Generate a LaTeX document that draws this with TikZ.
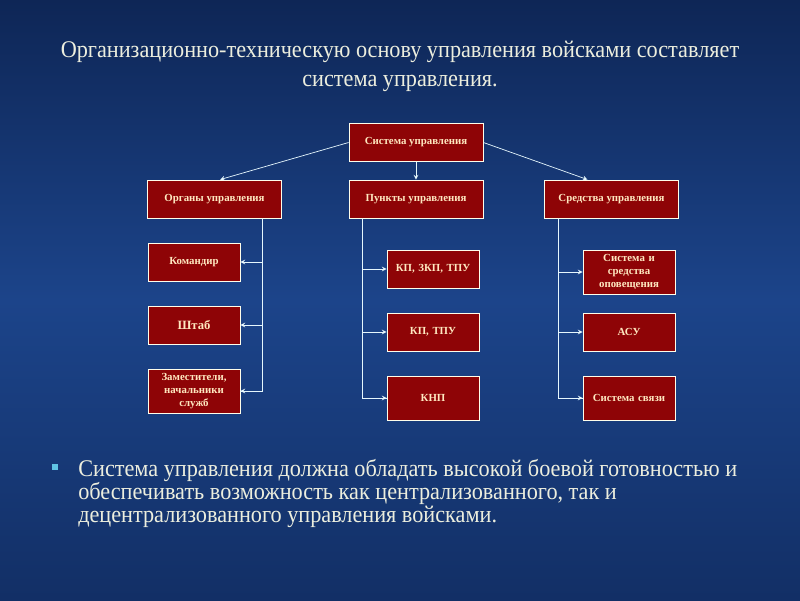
\documentclass[tikz,border=0pt]{standalone}
\usepackage{fontspec}
\setmainfont{Liberation Serif}
\newfontfamily\narrowserif[FakeStretch=0.93]{Liberation Serif}
\usetikzlibrary{shapes.geometric, arrows, calc, positioning}
\definecolor{bgblue}{RGB}{28,68,138}
\definecolor{bgdark}{RGB}{14,38,86}
\definecolor{boxred}{RGB}{142,4,6}
\definecolor{boxtext}{RGB}{255,232,192}
\definecolor{titletext}{RGB}{236,238,222}
\definecolor{bulletcyan}{RGB}{96,196,228}
\tikzstyle{block} = [rectangle, draw=white!92!yellow, line width=0.6pt, fill=boxred, text=boxtext, font=\bfseries\fontsize{7.7}{9}\selectfont, align=center, inner sep=1pt]
\tikzstyle{head} = [block, minimum width=3.35cm, minimum height=0.95cm]
\tikzstyle{leaf} = [block, minimum width=2.3cm, minimum height=0.95cm, text width=2.2cm]
\tikzstyle{arrow} = [draw=white!90!cyan, line width=0.5pt, ->, >=stealth]
\tikzstyle{link} = [draw=white!90!cyan, line width=0.5pt]

\begin{document}
\begin{tikzpicture}[x=0.025cm, y=-0.025cm]
		\shade[top color=bgdark, bottom color=bgdark!70!bgblue, middle color=bgblue] (0,0) rectangle (800,600);
		\useasboundingbox (0,0) rectangle (800,600);
		% title
		\node (Title) [text=titletext, align=center, font=\narrowserif\fontsize{17}{20.5}\selectfont] at (400,66) {Организационно-техническую основу управления войсками составляет\\система управления.};
		% top level
		\node (System) [head] at (416,142.5) {Система управления};
		\node (Organs) [head] at (214.5,199) {Органы управления};
		\node (Points) [head] at (416,199) {Пункты управления};
		\node (Means) [head] at (611.5,199) {Средства управления};
		% organs
		\node (Commander) [leaf] at (194,262) {Командир};
		\node (Staff) [leaf, font=\bfseries\fontsize{9}{10}\selectfont] at (194,325) {Штаб};
		\node (Deputies) [leaf, minimum height=1.1cm] at (194,391) {Заместители,\\начальники\\служб};
		% points
		\node (KP1) [leaf] at (433,269) {КП, ЗКП, ТПУ};
		\node (KP2) [leaf] at (433,332) {КП, ТПУ};
		\node (KNP) [leaf, minimum height=1.1cm] at (433,398) {КНП};
		% means
		\node (Alert) [leaf, minimum height=1.1cm] at (629,272) {Система и\\средства\\оповещения};
		\node (ASU) [leaf] at (629,332) {АСУ};
		\node (Comm) [leaf, minimum height=1.1cm] at (629,398) {Система связи};
		% connectors
		\draw [arrow] (System.west) -- ([xshift=0.14cm]Organs.north);
		\draw [arrow] (System) -- (Points);
		\draw [arrow] (System.east) -- ([xshift=-0.6cm]Means.north);
		\coordinate (OrgTop) at ([xshift=1.2cm]Organs.south);
		\coordinate (PtsTop) at ([xshift=-1.33cm]Points.south);
		\coordinate (MnsTop) at ([xshift=-1.33cm]Means.south);
		\draw [link] (OrgTop) |- (Deputies.east);
		\draw [link] (PtsTop) |- (KNP.west);
		\draw [link] (MnsTop) |- (Comm.west);
		\foreach \leafnode in {Commander, Staff, Deputies}
			\draw [arrow] (OrgTop |- \leafnode.east) -- (\leafnode.east);
		\foreach \leafnode in {KP1, KP2, KNP}
			\draw [arrow] (PtsTop |- \leafnode.west) -- (\leafnode.west);
		\foreach \leafnode in {Alert, ASU, Comm}
			\draw [arrow] (MnsTop |- \leafnode.west) -- (\leafnode.west);
		% bullet text
		\node (Bullet) [fill=bulletcyan, minimum size=0.15cm, inner sep=0pt] at (55,467) {};
		\node (Body) [text=titletext, align=left, anchor=north west, inner sep=0pt, font=\narrowserif\fontsize{17}{16.3}\selectfont] at (78,459) {Система управления должна обладать высокой боевой готовностью и\\обеспечивать возможность как централизованного, так и\\децентрализованного управления войсками.};
\end{tikzpicture}
\end{document}
